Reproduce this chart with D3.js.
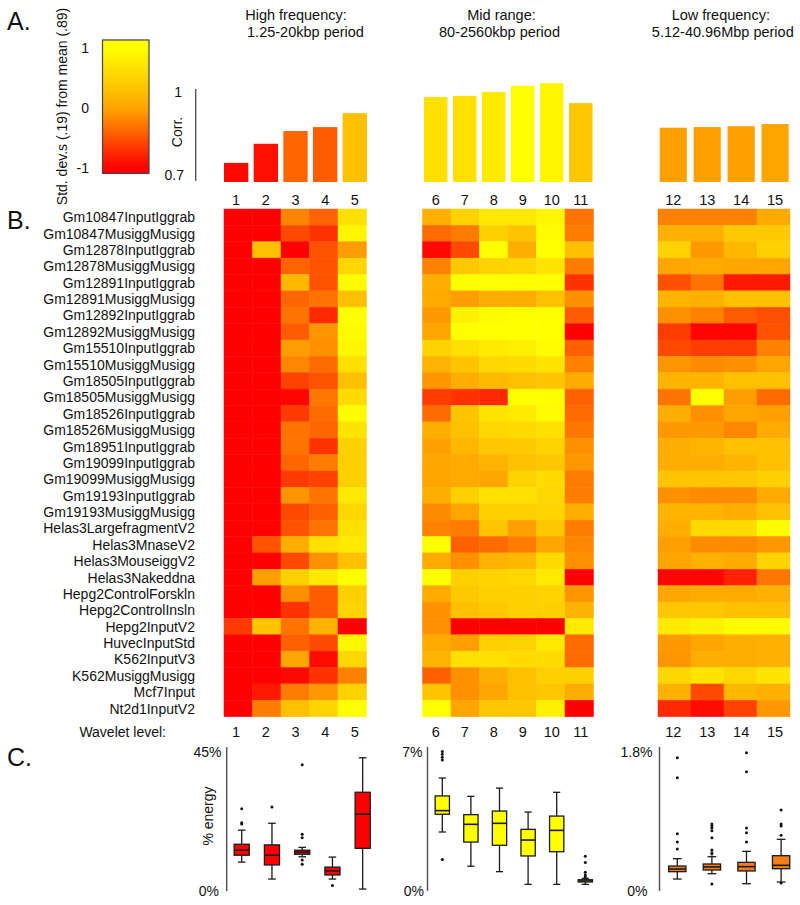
<!DOCTYPE html>
<html><head><meta charset="utf-8">
<script src="https://cdn.jsdelivr.net/npm/d3@7"></script>
<style>
body{margin:0;background:#fff;}
svg{display:block;font-family:"Liberation Sans",Arial,Helvetica,sans-serif;}
</style>
</head><body>
<svg id="chart" width="800" height="905"></svg>
<script>
// ---------------- DATA ----------------
const rowLabels = ["Gm10847InputIggrab","Gm10847MusiggMusigg","Gm12878InputIggrab","Gm12878MusiggMusigg",
 "Gm12891InputIggrab","Gm12891MusiggMusigg","Gm12892InputIggrab","Gm12892MusiggMusigg","Gm15510InputIggrab",
 "Gm15510MusiggMusigg","Gm18505InputIggrab","Gm18505MusiggMusigg","Gm18526InputIggrab","Gm18526MusiggMusigg",
 "Gm18951InputIggrab","Gm19099InputIggrab","Gm19099MusiggMusigg","Gm19193InputIggrab","Gm19193MusiggMusigg",
 "Helas3LargefragmentV2","Helas3MnaseV2","Helas3MouseiggV2","Helas3Nakeddna","Hepg2ControlForskln",
 "Hepg2ControlInsln","Hepg2InputV2","HuvecInputStd","K562InputV3","K562MusiggMusigg","Mcf7Input","Nt2d1InputV2"];

const hfLevels = [1,2,3,4,5];
const midLevels = [6,7,8,9,10,11];
const lfLevels = [12,13,14,15];

// std. devs from mean correlation, per row (levels 1-5)
const hfValues = [
 [-1,-1,-0.2,-0.4,0.65],[-1,-1,-0.55,-0.7,0.9],[-1,0.3,-1,-0.5,-0.05],[-1,-1,-0.4,-0.5,0.55],
 [-1,-1,0.2,-0.5,0.95],[-1,-1,-0.38,-0.3,0.3],[-1,-1,-0.3,-0.75,1],[-1,-1,-0.45,-0.1,0.97],
 [-1,-1,-0.05,-0.12,0.9],[-1,-1,-0.18,-0.35,0.65],[-1,-1,-0.6,-0.5,0.3],[-1,-1,-0.97,-0.28,0.6],
 [-1,-1,-0.65,-0.35,0.95],[-1,-1,-0.3,-0.38,0.7],[-1,-1,-0.3,-0.7,0.48],[-1,-1,-0.38,-0.25,0.48],
 [-1,-1,-0.65,-0.6,0.48],[-1,-1,-0.1,-0.3,0.75],[-1,-1,-0.55,-0.42,0.55],[-1,-1,-0.5,-0.3,0.65],
 [-1,-0.5,0.1,0.65,0.75],[-1,-1,-0.55,-0.12,0.3],[-1,-0.03,0.48,0.75,1],[-1,-1,-0.12,-0.45,0.48],
 [-1,-1,-0.7,-0.45,0.52],[-0.65,0.35,-0.3,0.15,-1],[-1,-1,-0.42,-0.55,0.9],[-1,-1,0,-0.93,0.55],
 [-1,-1,-0.95,-0.7,-0.22],[-1,-0.85,-0.25,-0.08,0.5],[-1,-0.25,0.3,0.52,1]];

// levels 6-11
const midValues = [
 [0.12,0.5,0.75,0.75,0.9,-0.3],[-0.35,-0.25,0.48,0.35,0.95,-0.25],[-0.95,-0.55,1,0.1,1,0.3],
 [-0.22,0.4,0.5,0.55,0.7,-0.25],[0.1,1,1,1,1,-0.7],[0.05,-0.04,0.1,0.1,0.3,-0.12],
 [-0.07,0.85,0.95,1,1,-0.45],[0,1,1,1,1,-1],[0.5,0.65,0.77,0.83,0.95,-0.42],
 [0.15,0.35,0.55,0.6,0.7,-0.22],[-0.1,0.1,0.22,0.3,0.35,0.05],[-0.63,-0.7,-0.75,1,1,-0.42],
 [-0.35,0.35,0.7,0.77,0.95,-0.35],[0.1,0.3,0.55,0.6,0.65,-0.28],[-0.03,0.2,0.38,0.4,0.5,-0.12],
 [0,0.05,0.15,0.3,0.38,-0.08],[0,0.05,0,0.5,0.6,-0.25],[0.1,0.48,0.65,0.65,0.55,-0.25],
 [-0.15,0,0.48,0.48,0.52,0.1],[-0.22,-0.25,0.35,-0.03,0.38,-0.25],[1,-0.42,-0.35,-0.25,0,-0.18],
 [0.05,-0.12,0.15,0.2,0.6,-0.12],[1,0.48,0.5,0.55,0.77,-1],[0.05,0.4,0.48,0.48,0.5,-0.1],
 [-0.12,0.3,0.38,0.48,0.48,0.15],[-0.12,-1,-1,-1,-1,0.77],[0.05,-0.03,0.48,0.5,0.75,-0.35],
 [0.15,0.65,0.65,0.6,0.6,-0.35],[-0.42,-0.12,0.1,0.3,0.48,0.48],[0.35,-0.12,0,0.3,0.38,0.1],
 [1,0,0.38,0.38,0.83,-1]];

// levels 12-15
const lfValues = [
 [-0.22,-0.22,-0.22,0.05],[0.12,0.12,0.4,0.4],[0.5,-0.07,0.2,0.48],[0,0.05,0,0],
 [-0.52,-0.3,-0.85,-0.85],[0.18,0.12,0.3,0.3],[-0.12,-0.22,-0.45,-0.52],[-0.63,-0.97,-0.97,-0.5],
 [-0.55,-0.63,-0.63,-0.22],[-0.1,-0.15,-0.12,0],[0.18,0.18,0.3,0.3],[-0.3,1,-0.04,-0.35],
 [0.1,-0.12,0,-0.03],[-0.07,-0.07,-0.18,0.05],[0.1,0.18,0.3,0.3],[0.1,0.1,0.18,0.3],
 [0.35,0.35,0.38,0.48],[-0.12,-0.15,-0.15,0.05],[0.18,0.18,0.1,0.3],[0.1,0.6,0.6,0.95],
 [-0.03,-0.15,-0.15,-0.08],[0,0.12,0.05,0.5],[-0.97,-0.97,-0.8,-0.28],[0,0.05,0.05,0.12],
 [0.38,0.38,0.3,0.3],[0.77,0.85,0.95,0.95],[-0.07,0,0.1,0.12],[-0.1,0.1,0.1,0.12],
 [0.55,0.7,0.55,0.7],[0.12,-0.55,0.2,0.12],[-0.75,-0.93,-0.6,-0.08]];

// mean correlation per wavelet level (levels 1..15) and its colour value (std. devs)
const corrValues = [0.763,0.826,0.868,0.881,0.927,0.980,0.984,0.997,1.017,1.026,0.960,0.879,0.881,0.884,0.891];
const corrColorValues = [-0.95,-0.9,-0.38,-0.45,0.3,0.65,0.65,0.77,1,0.9,0.38,-0.03,-0.03,-0.03,0];
const colorbarTicks = [-1,0,1];
const corrTicks = ["0.7","1"];

// % energy box stats: [lower whisker, Q1, median, Q3, upper whisker]
const hfBoxes = [[8.9,11.1,12.7,14.6,19.1],[3.5,8.0,11.1,14.4,21.3],[10.6,11.4,12.1,12.7,13.6],[3.5,4.8,6.1,7.3,10.5],[0.3,13.3,24.2,31.2,42.2]];
const hfOutliers = [[25.9,21.5,21.1],[26.5],[40,17.8,16.7,9.6,8.2],[1.4],[]];
const midBoxes = [[2.88,3.76,3.94,4.67,5.56],[1.18,2.38,3.26,3.74,4.65],[0.91,2.22,3.31,3.92,5.06],[0.28,1.69,2.48,3.01,3.87],[0.28,1.9,2.96,3.67,4.85],[0.28,0.40,0.45,0.51,0.58]];
const midOutliers = [[6.87,6.74,6.59,6.45,1.52],[],[],[],[],[1.67,1.36,0.88,0.74,0.66]];
const lfBoxes = [[0.14,0.234,0.268,0.306,0.40],[0.208,0.255,0.294,0.332,0.425],[0.08,0.243,0.298,0.353,0.493],[0.102,0.272,0.315,0.438,0.647]];
const lfOutliers = [[1.689,1.434,0.719,0.613,0.523],[0.843,0.817,0.791,0.757,0.668,0.51,0.476,0.46,0.077],[1.753,1.51,0.791,0.732,0.613],[1.02,0.843,0.817,0.698,0.09]];
const energyMax = [45, 7, 1.8];
const energyMaxLabels = ["45%","7%","1.8%"];
const groupTitles = [["High frequency:","1.25-20kbp period"],["Mid range:","80-2560kbp period"],["Low frequency:","5.12-40.96Mbp period"]];

// ---------------- LAYOUT / STYLE ----------------
const FONT = 14;
const TXT = "#111";
const groups = [
 {levels:hfLevels, values:hfValues, boxes:hfBoxes, outliers:hfOutliers, max:energyMax[0], maxLabel:energyMaxLabels[0], titles:groupTitles[0],
  hx:[224,366.5], bar:[224,367], barPad:0.18, bx:[226.6,377.8], axisX:226.7, boxFill:"#ff0000", t1:296, t2:305.5, labR:221.5, zeroR:219},
 {levels:midLevels, values:midValues, boxes:midBoxes, outliers:midOutliers, max:energyMax[1], maxLabel:energyMaxLabels[1], titles:groupTitles[1],
  hx:[422.5,593.5], bar:[424,592.5], barPad:0.19, bx:[428,599.6], axisX:427.5, boxFill:"#ffff00", t1:501.5, t2:499.5, labR:422.5, zeroR:424},
 {levels:lfLevels, values:lfValues, boxes:lfBoxes, outliers:lfOutliers, max:energyMax[2], maxLabel:energyMaxLabels[2], titles:groupTitles[2],
  hx:[658,790], bar:[659.7,788.7], barPad:0.2, bx:[660,798.4], axisX:659.5, boxFill:"#f57f17", t1:720.8, t2:722.8, labR:652.5, zeroR:647.5}
];

const svg = d3.select("#chart");
const color = d3.scaleLinear().domain([-1,0,1]).range(["#ff0000","#ffa500","#ffff00"]).clamp(true);
const yRow = d3.scaleBand().domain(rowLabels).range([209,716.7]);
const yCorr = d3.scaleLinear().domain([0.7,1]).range([182,91]);

// panel letters
[["A.",30],["B.",229],["C.",766]].forEach(([t,y]) =>
  svg.append("text").attr("x",7).attr("y",y).attr("font-size",25).attr("fill",TXT).text(t));

// ---- colorbar ----
const cb = d3.scaleLinear().domain([-1,1]).range([167.5,48.3]);
const cbTop = 1.14, cbBot = -1.1;
const defs = svg.append("defs");
const grad = defs.append("linearGradient").attr("id","cbgrad").attr("x1",0).attr("y1",1).attr("x2",0).attr("y2",0);
d3.range(0,21).forEach(i => {
  const z = cbBot + (cbTop-cbBot)*i/20;
  grad.append("stop").attr("offset",(i/20)).attr("stop-color",color(z));
});
svg.append("rect").attr("x",102.5).attr("y",cb(cbTop)).attr("width",46.5).attr("height",cb(cbBot)-cb(cbTop))
  .attr("fill","url(#cbgrad)").attr("stroke","#444").attr("stroke-width",1.2);
svg.selectAll(".cbt").data(colorbarTicks).join("text").attr("class","cbt")
  .attr("x",89).attr("y",d=>cb(d)).attr("dy","0.36em").attr("text-anchor","end")
  .attr("font-size",FONT).attr("fill",TXT).text(d=>d);
svg.append("text").attr("transform","translate(66.5,106.5) rotate(-90)").attr("text-anchor","middle")
  .attr("font-size",FONT).attr("fill",TXT).text("Std. dev.s (.19) from mean (.89)");

// ---- Corr axis ----
svg.append("line").attr("x1",195.7).attr("x2",195.7).attr("y1",yCorr(1)-2).attr("y2",yCorr(0.7)-1)
  .attr("stroke","#555").attr("stroke-width",1.4);
svg.append("text").attr("x",182).attr("y",yCorr(1)+6).attr("text-anchor","end").attr("font-size",FONT).attr("fill",TXT).text(corrTicks[1]);
svg.append("text").attr("x",184).attr("y",yCorr(0.7)-2).attr("text-anchor","end").attr("font-size",FONT).attr("fill",TXT).text(corrTicks[0]);
svg.append("text").attr("transform","translate(181.5,132) rotate(-90)").attr("text-anchor","middle")
  .attr("font-size",FONT).attr("fill",TXT).text("Corr.");

// ---- row labels ----
svg.selectAll(".rl").data(rowLabels).join("text").attr("class","rl")
  .attr("x",195).attr("y",d=>yRow(d)+yRow.bandwidth()/2).attr("dy","0.36em").attr("text-anchor","end")
  .attr("font-size",FONT).attr("fill",TXT).text(d=>d);

svg.append("text").attr("x",166).attr("y",736.5).attr("text-anchor","end").attr("font-size",FONT).attr("fill",TXT).text("Wavelet level:");

// ---- groups ----
groups.forEach((g,gi) => {
  const xh = d3.scaleBand().domain(g.levels).range(g.hx);
  const xb = d3.scaleBand().domain(g.levels).range(g.bar).paddingInner(g.barPad).paddingOuter(0);
  const xx = d3.scaleBand().domain(g.levels).range(g.bx);
  const yE = d3.scaleLinear().domain([0,g.max]).range([890,749]);

  // titles
  svg.append("text").attr("x",g.t1).attr("y",20).attr("text-anchor","middle").attr("font-size",14.5).attr("fill",TXT).text(g.titles[0]);
  svg.append("text").attr("x",g.t2).attr("y",37).attr("text-anchor","middle").attr("font-size",14.5).attr("fill",TXT).text(g.titles[1]);

  // heatmap cells
  const cells = [];
  g.values.forEach((row,ri) => row.forEach((z,ci) => cells.push({label:rowLabels[ri], level:g.levels[ci], z})));
  svg.append("g").selectAll("rect").data(cells).join("rect")
    .attr("x",d=>xh(d.level)).attr("y",d=>yRow(d.label))
    .attr("width",xh.bandwidth()).attr("height",yRow.bandwidth())
    .attr("fill",d=>color(d.z)).attr("stroke",d=>color(d.z)).attr("stroke-width",0.5);

  // bars
  svg.append("g").selectAll("rect").data(g.levels).join("rect")
    .attr("x",d=>xb(d)).attr("width",xb.bandwidth())
    .attr("y",d=>yCorr(corrValues[d-1])).attr("height",d=>yCorr(0.7)-yCorr(corrValues[d-1]))
    .attr("fill",d=>color(corrColorValues[d-1]));

  // level numbers
  [204.5,736.5].forEach(y =>
    svg.append("g").selectAll("text").data(g.levels).join("text")
      .attr("x",d=>xb(d)+xb.bandwidth()/2).attr("y",y).attr("text-anchor","middle")
      .attr("font-size",14.5).attr("fill",TXT).text(d=>d));

  // box plot axis
  svg.append("line").attr("x1",g.axisX).attr("x2",g.axisX).attr("y1",yE(g.max)-2).attr("y2",yE(0)+1)
    .attr("stroke","#555").attr("stroke-width",1.5);
  svg.append("text").attr("x",g.labR).attr("y",yE(g.max)+3).attr("dy","0.36em").attr("text-anchor","end")
    .attr("font-size",FONT).attr("fill",TXT).text(g.maxLabel);
  svg.append("text").attr("x",g.zeroR).attr("y",yE(0)+1).attr("dy","0.36em").attr("text-anchor","end")
    .attr("font-size",FONT).attr("fill",TXT).text("0%");

  const bw = xx.bandwidth()*0.5;
  const bg = svg.append("g").selectAll("g").data(g.levels).join("g")
    .attr("transform",d=>`translate(${xx(d)+xx.bandwidth()/2},0)`);
  bg.each(function(d,i){
    const s = g.boxes[i], gg = d3.select(this);
    const ln = (x1,y1,x2,y2) => gg.append("line").attr("x1",x1).attr("y1",y1).attr("x2",x2).attr("y2",y2)
      .attr("stroke","#1a1a1a").attr("stroke-width",1.3);
    ln(0,yE(s[0]),0,yE(s[1]));
    ln(0,yE(s[3]),0,yE(s[4]));
    ln(-bw/4,yE(s[0]),bw/4,yE(s[0]));
    ln(-bw/4,yE(s[4]),bw/4,yE(s[4]));
    gg.append("rect").attr("x",-bw/2).attr("width",bw).attr("y",yE(s[3])).attr("height",yE(s[1])-yE(s[3]))
      .attr("fill",g.boxFill).attr("stroke","#1a1a1a").attr("stroke-width",1.3);
    ln(-bw/2,yE(s[2]),bw/2,yE(s[2])).attr("stroke-width",1.6);
    gg.selectAll("circle").data(g.outliers[i]).join("circle")
      .attr("cx",0).attr("cy",v=>yE(v)).attr("r",1.5).attr("fill","#111");
  });
});

// % energy label
svg.append("text").attr("transform","translate(213,816) rotate(-90)").attr("text-anchor","middle")
  .attr("font-size",FONT).attr("fill",TXT).text("% energy");
</script>
</body></html>
